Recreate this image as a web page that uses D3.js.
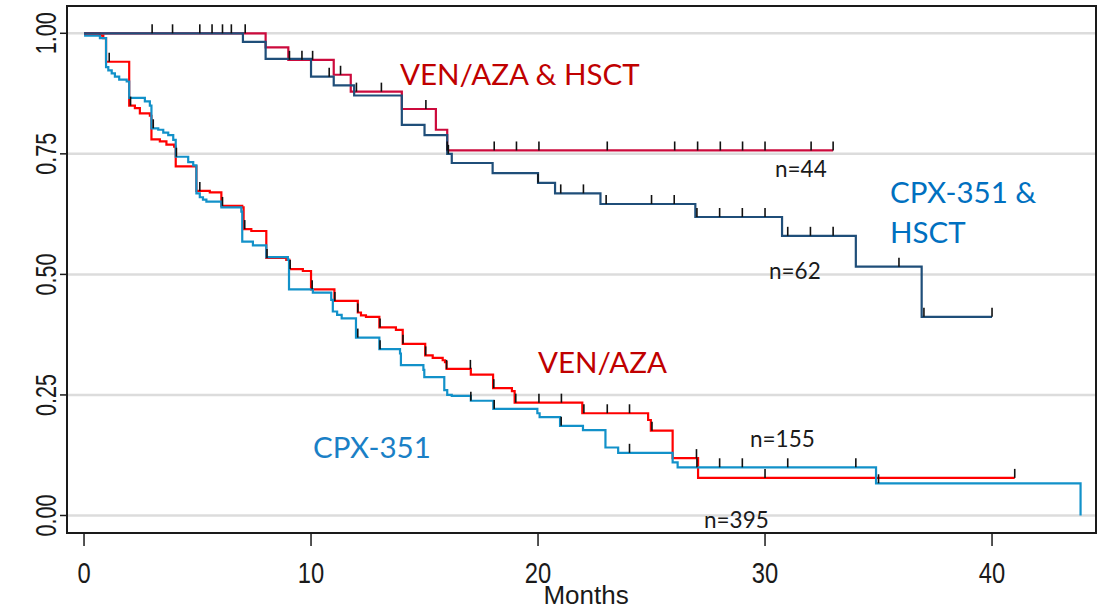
<!DOCTYPE html>
<html>
<head>
<meta charset="utf-8">
<script src="https://cdn.jsdelivr.net/npm/d3@7"></script>
<style>
  body { margin: 0; background: #fff; }
  svg { display: block; }
</style>
</head>
<body>
<svg id="chart" width="1109" height="610"></svg>
<script>
// Kaplan-Meier overall survival, months since start of treatment

// VEN/AZA & HSCT (n=44)
const venAzaHsctTime = [0, 8.0, 9.0, 11.0, 11.75, 14.0, 15.5, 16.0];
const venAzaHsctSurv = [1, 0.971, 0.945, 0.914, 0.879, 0.843, 0.80, 0.757];
const venAzaHsctEnd = 33.0;
const venAzaHsctCensor = [3.0, 3.9, 5.1, 5.64, 6.1, 6.49, 7.1, 9.05, 9.6, 10.07, 11.3, 12.0, 13.1,
  15.06, 16.0, 18.07, 19.05, 20.04, 23.05, 26.02, 27.03, 28.03, 29.01, 30.0, 32.03, 33.0];

// CPX-351 & HSCT (n=62)
const cpxHsctTime = [0, 7.0, 8.0, 10.0, 11.0, 11.9, 14.0, 15.0, 16.0, 16.2, 18.0, 20.0, 20.75,
  22.75, 26.93, 30.75, 34.0, 36.9];
const cpxHsctSurv = [1, 0.982, 0.947, 0.910, 0.892, 0.871, 0.81, 0.789, 0.75, 0.731, 0.71, 0.690,
  0.668, 0.646, 0.619, 0.580, 0.516, 0.412];
const cpxHsctEnd = 40.0;
const cpxHsctCensor = [10.8, 16.05, 20.0, 21.0, 22.0, 23.0, 25.0, 26.0, 27.0, 28.0, 29.0, 30.0,
  31.0, 32.0, 33.0, 35.9, 37.0, 40.0];

// VEN/AZA (n=155)
const venAzaTime = [0, 0.7, 0.85, 0.97, 1.99, 2.24, 2.46, 2.9, 2.97, 3.34, 3.63, 3.97, 4.04, 4.95,
  5.54, 6.05, 6.97, 7.03, 7.37, 8.03, 8.91, 9.05, 9.64, 10.0, 11.03, 12.06, 12.2, 12.42, 13.01,
  13.74, 14.04, 15.03, 15.36, 15.8, 15.9, 15.97, 17.04, 18.02, 18.85, 18.97, 21.95, 24.85, 24.97,
  25.93, 27.05];
const venAzaSurv = [1, 0.995, 0.99, 0.941, 0.850, 0.845, 0.834, 0.829, 0.780, 0.776, 0.769, 0.765,
  0.724, 0.673, 0.670, 0.642, 0.639, 0.594, 0.590, 0.534, 0.530, 0.511, 0.507, 0.469, 0.445, 0.421,
  0.415, 0.412, 0.390, 0.385, 0.356, 0.332, 0.327, 0.322, 0.318, 0.304, 0.292, 0.264, 0.258, 0.234,
  0.212, 0.198, 0.176, 0.119, 0.078];
const venAzaEnd = 41.0;
const venAzaCensor = [1.11, 2.05, 5.1, 6.1, 7.08, 8.06, 9.08, 10.05, 11.05, 12.06, 13.04, 14.05,
  15.05, 15.97, 17.02, 18.05, 19.02, 20.04, 21.03, 22.02, 23.05, 24.03, 25.02, 26.98, 30.0, 41.0];

// CPX-351 (n=395)
const cpxTime = [0, 0.05, 0.7, 0.97, 1.07, 1.22, 1.36, 1.55, 1.88, 1.99, 2.68, 2.9, 2.97, 3.27,
  3.49, 3.71, 3.93, 4.04, 4.59, 4.81, 4.95, 5.1, 5.24, 5.39, 6.05, 6.93, 6.97, 7.44, 8.03, 8.98,
  9.03, 10.08, 10.89, 10.96, 11.15, 11.35, 11.98, 13.01, 13.92, 13.96, 14.95, 14.99, 15.87, 16.0,
  16.2, 17.04, 18.03, 19.97, 20.07, 20.97, 21.98, 22.97, 23.53, 25.93, 26.15, 34.89, 43.9];
const cpxSurv = [1, 0.995, 0.99, 0.930, 0.923, 0.917, 0.910, 0.904, 0.900, 0.866, 0.859, 0.850,
  0.803, 0.800, 0.794, 0.789, 0.779, 0.744, 0.733, 0.726, 0.668, 0.660, 0.655, 0.651, 0.639, 0.630,
  0.568, 0.560, 0.536, 0.530, 0.469, 0.462, 0.447, 0.423, 0.416, 0.409, 0.369, 0.345, 0.336, 0.312,
  0.302, 0.287, 0.26, 0.25, 0.248, 0.238, 0.221, 0.212, 0.204, 0.186, 0.177, 0.141, 0.130, 0.110,
  0.100, 0.0668, 0];
const cpxEnd = 43.9;
const cpxCensor = [3.05, 4.07, 12.06, 13.04, 17.04, 18.07, 21.02, 24.03, 27.0, 28.0, 29.0, 31.0,
  34.0, 35.0];

// Axis ticks
const xTicks = [0, 10, 20, 30, 40];
const yTicks = [0, 0.25, 0.5, 0.75, 1];
const xLabel = "Months";

// Series annotations
const seriesNames = ["VEN/AZA & HSCT", "CPX-351 &", "HSCT", "VEN/AZA", "CPX-351"];
const countLabels = ["n=44", "n=62", "n=155", "n=395"];

const svg = d3.select("#chart");
const x = d3.scaleLinear().domain([-0.75, 44.58]).range([67, 1096]);
const y = d3.scaleLinear().domain([-0.0363, 1.0566]).range([533, 6]);
const axisFont = "Liberation Sans, Arial, sans-serif";

// horizontal grid
svg.append("g").selectAll("line").data(yTicks).join("line")
  .attr("x1", x.range()[0]).attr("x2", x.range()[1])
  .attr("y1", d => y(d)).attr("y2", d => y(d))
  .attr("stroke", "#dcdcdc").attr("stroke-width", 2.5);

function stepPoints(times, surv, end) {
  const pts = times.map((t, i) => [t, surv[i]]);
  pts.push([end, surv[surv.length - 1]]);
  return pts;
}
function survAt(times, surv, t) {
  let v = surv[0];
  for (let i = 0; i < times.length; i++) if (times[i] <= t) v = surv[i];
  return v;
}
const line = d3.line().x(d => x(d[0])).y(d => y(d[1])).curve(d3.curveStepAfter);

const series = [
  { time: venAzaTime, surv: venAzaSurv, end: venAzaEnd, censor: venAzaCensor, color: "#ff0000" },
  { time: cpxTime, surv: cpxSurv, end: cpxEnd, censor: cpxCensor, color: "#1291c9" },
  { time: venAzaHsctTime, surv: venAzaHsctSurv, end: venAzaHsctEnd, censor: venAzaHsctCensor, color: "#cc0a3c" },
  { time: cpxHsctTime, surv: cpxHsctSurv, end: cpxHsctEnd, censor: cpxHsctCensor, color: "#1f4e79" }
];

svg.append("g").selectAll("path").data(series).join("path")
  .attr("d", s => line(stepPoints(s.time, s.surv, s.end)))
  .attr("fill", "none").attr("stroke", s => s.color).attr("stroke-width", 2.2);

// censoring marks
const marks = svg.append("g").attr("stroke", "#111").attr("stroke-width", 1.6);
series.forEach(s => {
  s.censor.forEach(t => {
    const v = survAt(s.time, s.surv, t);
    marks.append("line")
      .attr("x1", x(t)).attr("x2", x(t))
      .attr("y1", y(v)).attr("y2", y(v) - 9);
  });
});

// frame
svg.append("rect")
  .attr("x", x.range()[0]).attr("y", y.range()[1])
  .attr("width", x.range()[1] - x.range()[0]).attr("height", y.range()[0] - y.range()[1])
  .attr("fill", "none").attr("stroke", "#1a1a1a").attr("stroke-width", 2);

// y axis (condensed, rotated labels)
const yAxis = svg.append("g");
yAxis.selectAll("line").data(yTicks).join("line")
  .attr("x1", 60).attr("x2", 67).attr("y1", d => y(d)).attr("y2", d => y(d))
  .attr("stroke", "#1a1a1a").attr("stroke-width", 1.5);
yAxis.selectAll("text").data(yTicks).join("text")
  .attr("transform", d => `translate(56,${y(d)}) rotate(-90) scale(0.72,1)`)
  .attr("text-anchor", "middle")
  .attr("font-family", axisFont)
  .attr("font-size", 30).attr("fill", "#1a1a1a")
  .text(d => d3.format(".2f")(d));

// x axis
const xAxis = svg.append("g");
xAxis.selectAll("line").data(xTicks).join("line")
  .attr("x1", d => x(d)).attr("x2", d => x(d)).attr("y1", 533).attr("y2", 546)
  .attr("stroke", "#1a1a1a").attr("stroke-width", 1.5);
xAxis.selectAll("text").data(xTicks).join("text")
  .attr("transform", d => `translate(${x(d)},583) scale(0.82,1)`)
  .attr("text-anchor", "middle")
  .attr("font-family", axisFont)
  .attr("font-size", 29).attr("fill", "#1a1a1a")
  .text(d => d);
svg.append("text")
  .attr("transform", "translate(586,604)")
  .attr("text-anchor", "middle")
  .attr("font-family", axisFont)
  .attr("font-size", 26).attr("fill", "#1a1a1a")
  .text(xLabel);

// annotations
const ann = svg.append("g").attr("font-family", "Lato, 'Open Sans', sans-serif");
const big = [
  { text: seriesNames[0], x: 400, y: 85, color: "#c00000" },
  { text: seriesNames[1], x: 890, y: 203, color: "#0070c0" },
  { text: seriesNames[2], x: 890, y: 243, color: "#0070c0" },
  { text: seriesNames[3], x: 538, y: 373, color: "#c00000" },
  { text: seriesNames[4], x: 313, y: 458, color: "#1a80c6" }
];
ann.selectAll("text.big").data(big).join("text").attr("class", "big")
  .attr("x", d => d.x).attr("y", d => d.y).attr("fill", d => d.color)
  .attr("font-size", 29.5).text(d => d.text);
const small = [
  { text: countLabels[0], x: 775, y: 177 },
  { text: countLabels[1], x: 769, y: 279 },
  { text: countLabels[2], x: 750, y: 447 },
  { text: countLabels[3], x: 704, y: 528 }
];
ann.selectAll("text.small").data(small).join("text").attr("class", "small")
  .attr("x", d => d.x).attr("y", d => d.y).attr("fill", "#1a1a1a")
  .attr("font-size", 22.5).text(d => d.text);
</script>
</body>
</html>
